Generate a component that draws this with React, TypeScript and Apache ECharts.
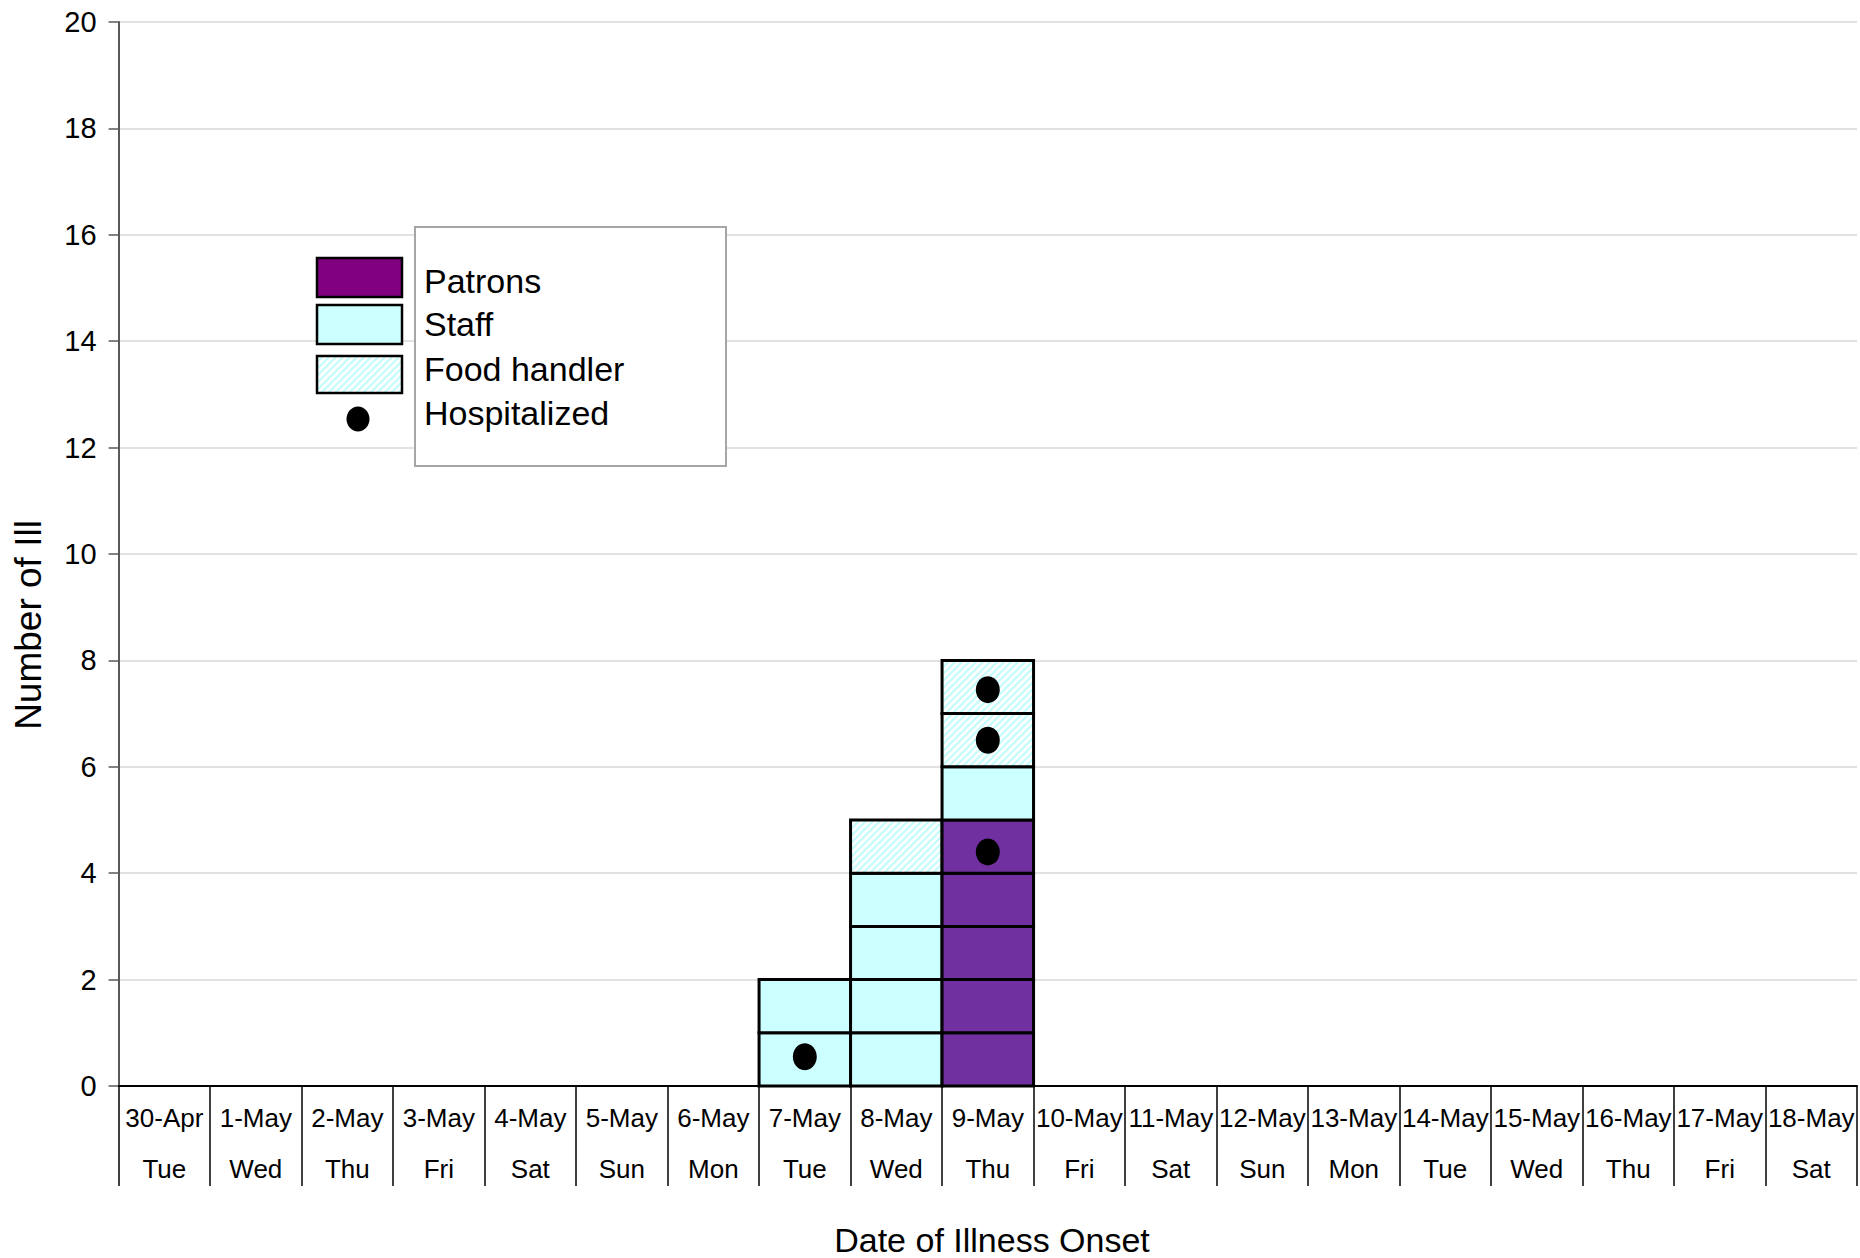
import React, { useEffect, useRef } from 'react';
import * as echarts from 'echarts';

const dates = ['30-Apr', '1-May', '2-May', '3-May', '4-May', '5-May', '6-May', '7-May', '8-May', '9-May', '10-May', '11-May', '12-May', '13-May', '14-May', '15-May', '16-May', '17-May', '18-May'];
const days = ['Tue', 'Wed', 'Thu', 'Fri', 'Sat', 'Sun', 'Mon', 'Tue', 'Wed', 'Thu', 'Fri', 'Sat', 'Sun', 'Mon', 'Tue', 'Wed', 'Thu', 'Fri', 'Sat'];
const patrons = [0, 0, 0, 0, 0, 0, 0, 0, 0, 5, 0, 0, 0, 0, 0, 0, 0, 0, 0];
const staff = [0, 0, 0, 0, 0, 0, 0, 2, 4, 1, 0, 0, 0, 0, 0, 0, 0, 0, 0];
const foodHandler = [0, 0, 0, 0, 0, 0, 0, 0, 1, 2, 0, 0, 0, 0, 0, 0, 0, 0, 0];
// [category index, value position of the dot]
const hospitalized = [[7, 0.55], [9, 4.4], [9, 6.5], [9, 7.45]];
const legendLabels = ['Patrons', 'Staff', 'Food handler', 'Hospitalized'];
const yMin = 0;
const yMax = 20;
const yInterval = 2;

const sans = "'Liberation Sans', Arial, sans-serif";

function makeHatch(): HTMLCanvasElement {
  const c = document.createElement('canvas');
  const s = 7;
  c.width = s;
  c.height = s;
  const ctx = c.getContext('2d')!;
  ctx.fillStyle = '#ffffff';
  ctx.fillRect(0, 0, s, s);
  ctx.strokeStyle = '#c8fcfc';
  ctx.lineWidth = 2.4;
  ctx.beginPath();
  ctx.moveTo(0, s); ctx.lineTo(s, 0);
  ctx.moveTo(-s / 2, s / 2); ctx.lineTo(s / 2, -s / 2);
  ctx.moveTo(s / 2, s * 1.5); ctx.lineTo(s * 1.5, s / 2);
  ctx.stroke();
  return c;
}

export default function App() {
  const ref = useRef<HTMLDivElement>(null);
  useEffect(() => {
    document.body.style.margin = '0';
    if (!ref.current) return;
    const chart = echarts.init(ref.current, null, { renderer: 'svg' });
    const hatch = makeHatch();
    const fills = ['#7030A0', '#CCFFFF', { image: hatch, repeat: 'repeat' }];

    // build one cell per case from the counts
    const cells: number[][] = [];
    dates.forEach((_, i) => {
      let base = 0;
      [patrons[i], staff[i], foodHandler[i]].forEach((n, t) => {
        for (let k = 0; k < n; k++) {
          cells.push([i, base, base + 1, t]);
          base += 1;
        }
      });
    });

    const labels = dates.map((d, i) => d + '\n' + days[i]);

    const legendX = 317;
    const swatchW = 85;
    const swatchTops = [258, 305, 356];
    const swatchH = [39, 39, 37];
    const textYs = [281, 324, 369, 413];

    const graphic: any[] = [
      {
        type: 'rect', z: 100,
        shape: { x: 415, y: 227, width: 311, height: 239 },
        style: { fill: '#ffffff', stroke: '#a6a6a6', lineWidth: 2 },
      },
      {
        type: 'rect', z: 100,
        shape: { x: legendX, y: swatchTops[0], width: swatchW, height: swatchH[0] },
        style: { fill: '#800080', stroke: '#000', lineWidth: 2.5 },
      },
      {
        type: 'rect', z: 100,
        shape: { x: legendX, y: swatchTops[1], width: swatchW, height: swatchH[1] },
        style: { fill: '#CCFFFF', stroke: '#000', lineWidth: 2.5 },
      },
      {
        type: 'rect', z: 100,
        shape: { x: legendX, y: swatchTops[2], width: swatchW, height: swatchH[2] },
        style: { fill: { image: hatch, repeat: 'repeat' }, stroke: '#000', lineWidth: 2.5 },
      },
      {
        type: 'ellipse', z: 100,
        shape: { cx: 358, cy: 419, rx: 11.5, ry: 12.5 },
        style: { fill: '#000' },
      },
      ...legendLabels.map((t, i) => ({
        type: 'text', z: 101,
        x: 424, y: textYs[i],
        style: { text: t, fontSize: 34, fontFamily: sans, fill: '#000', textAlign: 'left', textVerticalAlign: 'middle' },
      })),
      {
        type: 'text', z: 101,
        x: 992, y: 1240,
        style: { text: 'Date of Illness Onset', fontSize: 34, fontFamily: sans, fill: '#000', textAlign: 'center', textVerticalAlign: 'middle' },
      },
      {
        type: 'text', z: 101,
        x: 28, y: 625, rotation: Math.PI / 2,
        style: { text: 'Number of Ill', fontSize: 37, fontFamily: sans, fill: '#000', textAlign: 'center', textVerticalAlign: 'middle' },
      },
    ];

    chart.setOption({
      animation: false,
      backgroundColor: '#ffffff',
      grid: { left: 118.6, right: 3, top: 22, bottom: 172, containLabel: false },
      xAxis: {
        type: 'category',
        data: labels,
        boundaryGap: true,
        axisLine: { show: true, lineStyle: { color: '#000', width: 2 } },
        axisTick: { show: true, interval: 0, length: 100, lineStyle: { color: '#000', width: 1.5 } },
        axisLabel: {
          interval: 0, margin: 6, color: '#000', fontSize: 26, fontFamily: sans, lineHeight: 51,
        },
        splitLine: { show: false },
      },
      yAxis: {
        type: 'value',
        min: yMin, max: yMax, interval: yInterval,
        axisLine: { show: true, lineStyle: { color: '#595959', width: 2 } },
        axisTick: { show: true, inside: false, length: 10, lineStyle: { color: '#595959', width: 1.5 } },
        axisLabel: { margin: 22, color: '#000', fontSize: 29, fontFamily: sans },
        splitLine: { show: true, lineStyle: { color: '#d9d9d9', width: 1.5 } },
      },
      graphic,
      series: [
        {
          type: 'custom',
          name: 'cases',
          data: cells,
          z: 3,
          renderItem: (params: any, api: any) => {
            const x = api.value(0);
            const y0 = api.value(1);
            const y1 = api.value(2);
            const t = api.value(3);
            const p0 = api.coord([x, y0]);
            const p1 = api.coord([x, y1]);
            const w = api.size([1, 0])[0];
            return {
              type: 'rect',
              shape: { x: p0[0] - w / 2, y: p1[1], width: w, height: p0[1] - p1[1] },
              style: { fill: fills[t], stroke: '#000', lineWidth: 3 },
            };
          },
        },
        {
          type: 'scatter',
          name: 'Hospitalized',
          data: hospitalized,
          symbol: 'circle',
          symbolSize: [24, 27],
          itemStyle: { color: '#000', opacity: 1 },
          z: 5,
        },
      ],
    });
    return () => chart.dispose();
  }, []);
  return <div ref={ref} style={{ width: 1860, height: 1258 }} />;
}
